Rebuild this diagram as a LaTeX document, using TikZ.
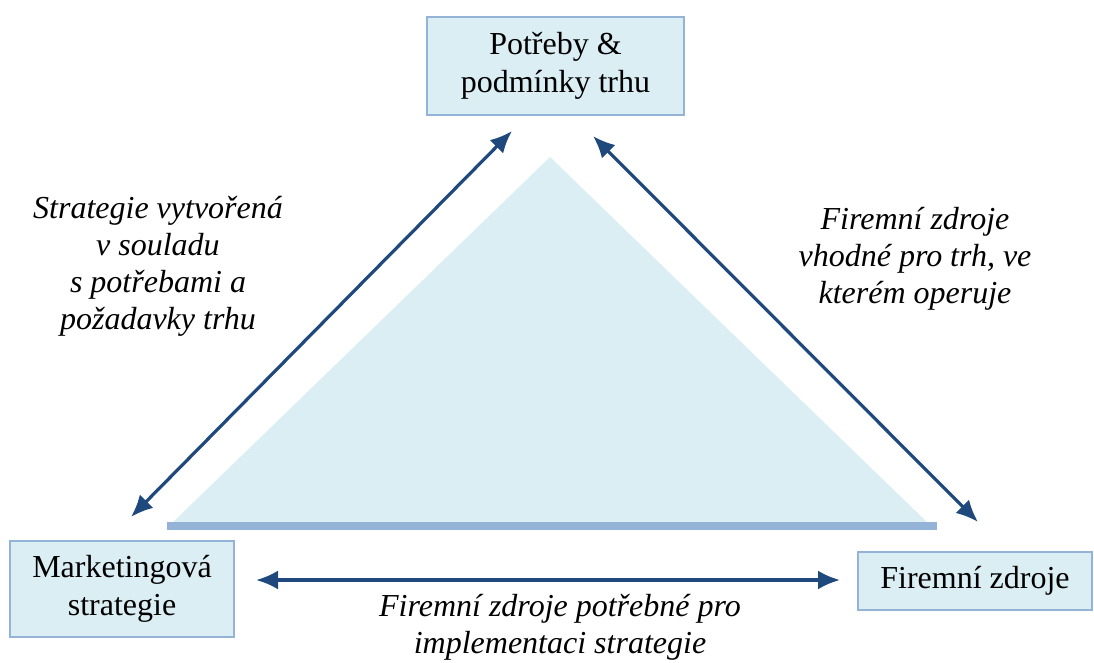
\documentclass[tikz,border=0pt]{standalone}
\usepackage{fontspec}
\setmainfont{Liberation Serif}
\usetikzlibrary{arrows.meta}
\definecolor{boxfill}{HTML}{DAEEF3}
\definecolor{boxline}{HTML}{95B3D7}
\definecolor{arrowc}{HTML}{1F497D}
\begin{document}
\begin{tikzpicture}[x=1pt,y=-1pt,
  box/.style={draw=boxline,line width=2pt,fill=boxfill,align=center,inner sep=0pt,
    font=\fontsize{32}{38}\selectfont},
  lbl/.style={align=center,inner sep=0pt,font=\fontsize{32}{37}\selectfont\itshape},
  conn/.style={draw=arrowc,line width=3.2pt,{Latex[length=22pt,width=19pt]}-{Latex[length=22pt,width=19pt]}}]
\useasboundingbox (0,0) rectangle (1094,662);
% triangle
\fill[boxfill] (170,525) -- (550,157) -- (930,525) -- cycle;
\draw[boxline,line width=8pt] (167,526) -- (937,526);
% boxes
\node[box,minimum width=257pt,minimum height=98pt] (top) at (555.5,66) {Potřeby \&\\podmínky trhu};
\node[box,minimum width=224pt,minimum height=96pt] (left) at (122,589) {Marketingová\\strategie};
\node[box,minimum width=234pt,minimum height=58pt] (right) at (975,581) {Firemní zdroje};
% arrow endpoints
\coordinate (l1) at (131,517);
\coordinate (l2) at (512,131);
\coordinate (r1) at (593,136);
\coordinate (r2) at (978,522);
\coordinate (b1) at (256,580);
\coordinate (b2) at (840,580);
\draw[conn] (l1) -- (l2);
\draw[conn] (r1) -- (r2);
\draw[conn] (b1) -- (b2);
% labels
\node[lbl] (ll) at (158,266) {Strategie vytvořená\\v souladu\\s potřebami a\\požadavky trhu};
\node[lbl] (rl) at (915,259) {Firemní zdroje\\vhodné pro trh, ve\\kterém operuje};
\node[lbl,anchor=north] (bl) at (560,594) {Firemní zdroje potřebné pro\\implementaci strategie};
\end{tikzpicture}
\end{document}
